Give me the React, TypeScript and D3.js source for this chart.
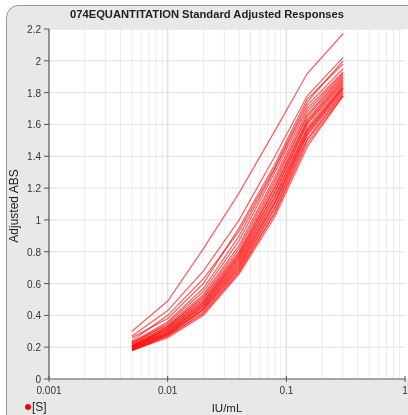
import React from 'react';
import * as d3 from 'd3';

// concentrations (IU/mL) of the standard dilutions
const concentrations = [0.005, 0.01, 0.02, 0.04, 0.08, 0.15, 0.3];

// adjusted responses, one row per standard run
const outlierHigh = [0.30, 0.49, 0.82, 1.17, 1.56, 1.92, 2.17];
const outlierMid = [0.27, 0.43, 0.68, 1.0, 1.40, 1.78, 2.02];
const outlierLow = [0.24, 0.40, 0.63, 0.93, 1.33, 1.74, 2.0];
const bundleRuns = [
  [0.26, 0.38, 0.60, 0.95, 1.35, 1.76, 1.98],
  [0.23, 0.36, 0.57, 0.90, 1.32, 1.72, 1.95],
  [0.22, 0.35, 0.55, 0.87, 1.30, 1.70, 1.93],
  [0.23, 0.34, 0.53, 0.84, 1.27, 1.68, 1.92],
  [0.22, 0.33, 0.52, 0.82, 1.25, 1.66, 1.91],
  [0.21, 0.33, 0.51, 0.80, 1.23, 1.65, 1.90],
  [0.21, 0.32, 0.50, 0.79, 1.21, 1.63, 1.89],
  [0.20, 0.32, 0.49, 0.78, 1.20, 1.62, 1.88],
  [0.21, 0.31, 0.48, 0.77, 1.18, 1.61, 1.87],
  [0.20, 0.31, 0.48, 0.76, 1.17, 1.60, 1.86],
  [0.20, 0.30, 0.47, 0.75, 1.15, 1.58, 1.85],
  [0.19, 0.30, 0.46, 0.74, 1.14, 1.57, 1.84],
  [0.20, 0.29, 0.46, 0.73, 1.12, 1.56, 1.83],
  [0.19, 0.29, 0.45, 0.72, 1.11, 1.55, 1.83],
  [0.19, 0.28, 0.44, 0.71, 1.10, 1.54, 1.82],
  [0.18, 0.28, 0.44, 0.70, 1.08, 1.53, 1.81],
  [0.19, 0.28, 0.43, 0.69, 1.07, 1.51, 1.80],
  [0.18, 0.27, 0.42, 0.68, 1.05, 1.50, 1.79],
  [0.18, 0.27, 0.41, 0.67, 1.04, 1.48, 1.78],
  [0.18, 0.26, 0.40, 0.66, 1.02, 1.46, 1.78],
];
const runs = [outlierHigh, outlierMid, outlierLow, ...bundleRuns];

const xTicks = [0.001, 0.01, 0.1, 1];
const xTickLabels = ['0.001', '0.01', '0.1', '1'];
const yTicks = [0, 0.2, 0.4, 0.6, 0.8, 1, 1.2, 1.4, 1.6, 1.8, 2, 2.2];

const W = 408;
const H = 415;
const margin = { top: 29, right: 3, bottom: 36, left: 49 };
const font = 'Liberation Sans, Arial, sans-serif';

export default function App() {
  const x = d3.scaleLog().domain([0.001, 1]).range([margin.left, W - margin.right]);
  const y = d3.scaleLinear().domain([0, 2.2]).range([H - margin.bottom, margin.top]);

  // minor log gridlines 2..9 in each decade
  const minor: number[] = [];
  [0.001, 0.01, 0.1].forEach((d) => {
    for (let k = 2; k <= 9; k++) minor.push(d * k);
  });

  const line = d3
    .line<number>()
    .x((_, i) => x(concentrations[i]))
    .y((d) => y(d));

  const x0 = margin.left;
  const x1 = W - margin.right;
  const y0 = H - margin.bottom;
  const y1 = margin.top;

  return (
    <svg width={W} height={H} style={{ position: 'fixed', left: 0, top: 0 }} fontFamily={font}>
      <rect x={6.5} y={5.5} width={440} height={440} rx={12} fill="#e8e8e8" stroke="#999" />
      <rect x={x0} y={y1} width={W - x0} height={y0 - y1} fill="#fff" />

      {minor.map((v) => (
        <line key={'m' + v} x1={x(v)} x2={x(v)} y1={y1} y2={y0} stroke="#ececec" />
      ))}
      {xTicks.slice(1, 3).map((v) => (
        <line key={'M' + v} x1={x(v)} x2={x(v)} y1={y1} y2={y0} stroke="#e0e0e0" strokeWidth={1.5} />
      ))}
      {yTicks.slice(1).map((v) => (
        <line key={'h' + v} x1={x0} x2={x1} y1={y(v)} y2={y(v)} stroke="#e2e2e2" />
      ))}

      <g>
        {runs.map((r, i) => (
          <path key={i} d={line(r) || ''} fill="none" stroke="#ff0000" strokeOpacity={0.62} strokeWidth={1.25} />
        ))}
      </g>

      {/* axes */}
      <line x1={x0} x2={x0} y1={y1} y2={y0} stroke="#555" strokeWidth={1.2} />
      <line x1={x0} x2={x1} y1={y0} y2={y0} stroke="#555" strokeWidth={1.2} />
      {yTicks.map((v) => (
        <g key={'yt' + v}>
          <line x1={x0 - 5} x2={x0} y1={y(v)} y2={y(v)} stroke="#555" />
          <text x={x0 - 8} y={y(v) + 4} textAnchor="end" fontSize={10} fill="#333">
            {v}
          </text>
        </g>
      ))}
      {xTicks.map((v, i) => (
        <g key={'xt' + v}>
          <line x1={x(v)} x2={x(v)} y1={y0 - 3} y2={y0 + 3} stroke="#555" />
          <text x={x(v)} y={y0 + 15} textAnchor="middle" fontSize={10} fill="#333">
            {xTickLabels[i]}
          </text>
        </g>
      ))}

      <text x={207} y={18} textAnchor="middle" fontSize={11.2} fontWeight="bold" fill="#222">
        074EQUANTITATION Standard Adjusted Responses
      </text>
      <text
        transform={`translate(18,${(y0 + y1) / 2 + 2}) rotate(-90)`}
        textAnchor="middle"
        fontSize={12}
        fill="#222"
      >
        Adjusted ABS
      </text>
      <text x={227} y={412} textAnchor="middle" fontSize={11.5} fill="#222">
        IU/mL
      </text>

      <circle cx={28} cy={407} r={3} fill="#ff0000" />
      <text x={32} y={411} fontSize={12} fill="#222">
        [S]
      </text>
    </svg>
  );
}
